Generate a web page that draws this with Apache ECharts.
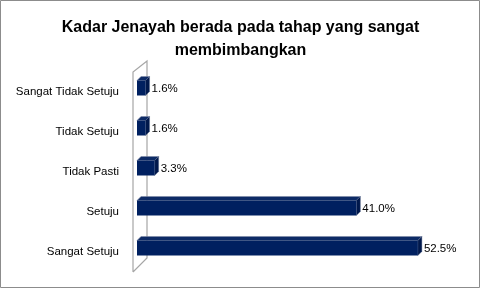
<!DOCTYPE html>
<html><head><meta charset="utf-8">
<script src="https://cdn.jsdelivr.net/npm/echarts@6/dist/echarts.min.js"></script>
<style>html,body{margin:0;padding:0;background:#fff}#c{width:481px;height:289px}</style>
</head><body><div id="c"></div>
<script>
const categories = ['Sangat Tidak Setuju','Tidak Setuju','Tidak Pasti','Setuju','Sangat Setuju'];
const values = [1.6, 1.6, 3.3, 41.0, 52.5];
const titleText = 'Kadar Jenayah berada pada tahap yang sangat\nmembimbangkan';

const chart = echarts.init(document.getElementById('c'));
const FONT = 'Liberation Sans';
chart.setOption({
  animation:false,
  backgroundColor:'#fff',
  title:{text:titleText,left:'center',top:11,textStyle:{fontFamily:FONT,fontSize:16,fontWeight:'bold',color:'#000',lineHeight:23}},
  grid:{left:137,right:23,top:72,bottom:17,containLabel:false},
  xAxis:{type:'value',min:0,max:60,show:false},
  yAxis:{type:'category',data:categories,inverse:true,axisLine:{show:false},axisTick:{show:false},
    axisLabel:{margin:18,fontFamily:FONT,fontSize:11.5,color:'#000'}},
  graphic:[
    {type:'rect',shape:{x:0.5,y:0.5,width:479,height:287},style:{fill:'none',stroke:'#8c8c8c',lineWidth:1},z:0},
    {type:'polyline',shape:{points:[[133,272],[133,72],[147,61],[147,258],[133,272]]},style:{fill:'none',stroke:'#a6a6a6',lineWidth:1.2},z:1}
  ],
  series:[{
    type:'custom',
    data: values.map((v,i)=>[v,i]),
    encode:{x:0,y:1},
    z:5,
    renderItem(params, api){
      const v = api.value(0), cat = api.value(1);
      const p0 = api.coord([0,cat]), p1 = api.coord([v,cat]);
      const h=15, d=4, off=-4;
      const x0=p0[0], x1=p1[0], yc=p0[1]+off, yt=yc-h/2, yb=yc+h/2;
      return {type:'group',children:[
        {type:'polygon',shape:{points:[[x0,yt],[x0+d,yt-d],[x1+d,yt-d],[x1,yt]]},style:{fill:'#0d2b66',stroke:'#7d8aa6',lineWidth:0.6}},
        {type:'polygon',shape:{points:[[x1,yt],[x1+d,yt-d],[x1+d,yb-d],[x1,yb]]},style:{fill:'#00184c',stroke:'#5a6a8a',lineWidth:0.4}},
        {type:'rect',shape:{x:x0,y:yt,width:x1-x0,height:h},style:{fill:'#002060'}},
        {type:'text',style:{text:v.toFixed(1)+'%',x:x1+d+2,y:yc+1,verticalAlign:'middle',align:'left',font:'11.5px '+FONT,fill:'#000'}}
      ]};
    }
  }]
});
</script></body></html>
